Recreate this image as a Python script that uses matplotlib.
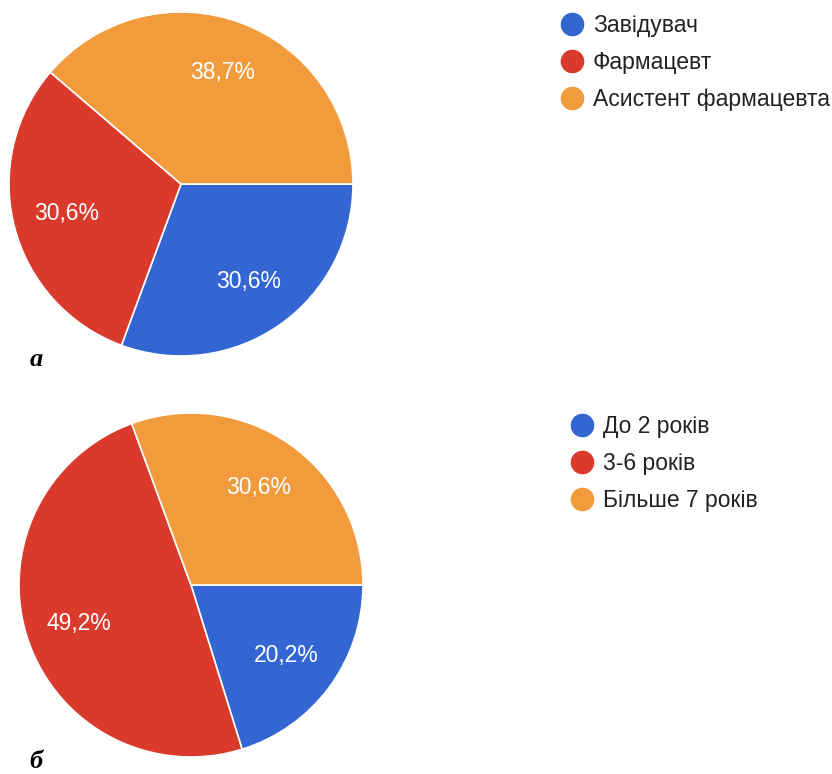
import matplotlib
matplotlib.use("Agg")
import matplotlib.pyplot as plt
from matplotlib.lines import Line2D

plt.rcParams['font.family'] = ['Liberation Sans', 'DejaVu Sans']

# chart data
roles = ["Завідувач", "Фармацевт", "Асистент фармацевта"]
roles_pct = [30.6, 30.6, 38.7]
experience = ["До 2 років", "3-6 років", "Більше 7 років"]
experience_pct = [20.2, 49.2, 30.6]
colors = ["#3366d2", "#da3a2c", "#f29b3c"]

W, H = 832, 774
fig = plt.figure(figsize=(W / 100, H / 100), dpi=100)


def px_axes(x0, y0, x1, y1):
    # pixel box (top-left origin) -> figure axes
    return fig.add_axes([x0 / W, 1 - y1 / H, (x1 - x0) / W, (y1 - y0) / H])


def fmt(v):
    return f"{v:.1f}%".replace(".", ",")


def draw_pie(ax, values):
    wedges, _, autotexts = ax.pie(
        values, colors=colors, startangle=0, counterclock=False,
        autopct=lambda p: "", pctdistance=0.69,
        wedgeprops=dict(edgecolor="white", linewidth=1.2))
    for t, v in zip(autotexts, values):
        t.set_text(fmt(v))
        t.set_color("white")
        t.set_fontsize(16.5)
    ax.set_aspect("equal")
    ax.set_xlim(-1, 1)
    ax.set_ylim(-1, 1)
    ax.axis("off")
    return wedges


def draw_legend(labels, x, y):
    handles = [Line2D([], [], marker="o", linestyle="none", markersize=16,
                      markerfacecolor=c, markeredgecolor=c) for c in colors]
    fig.legend(handles, labels, loc="upper left",
               bbox_to_anchor=(x / W, 1 - y / H), frameon=False,
               fontsize=16.5, labelcolor="#222222", handlelength=1.0,
               handletextpad=0.4, labelspacing=0.62, borderpad=0,
               borderaxespad=0)


ax1 = px_axes(9, 12, 353, 356)
draw_pie(ax1, roles_pct)
ax2 = px_axes(19, 413, 363, 757)
draw_pie(ax2, experience_pct)

draw_legend(roles, 561, 14)
draw_legend(experience, 571, 415)

label_kw = dict(fontsize=19, fontweight="bold", fontstyle="italic",
                family="Liberation Serif", ha="center", va="center")
fig.text(36 / W, 1 - 360 / H, "а", **label_kw)
fig.text(36 / W, 1 - 762 / H, "б", **label_kw)

fig.savefig("out.png", dpi=100)
